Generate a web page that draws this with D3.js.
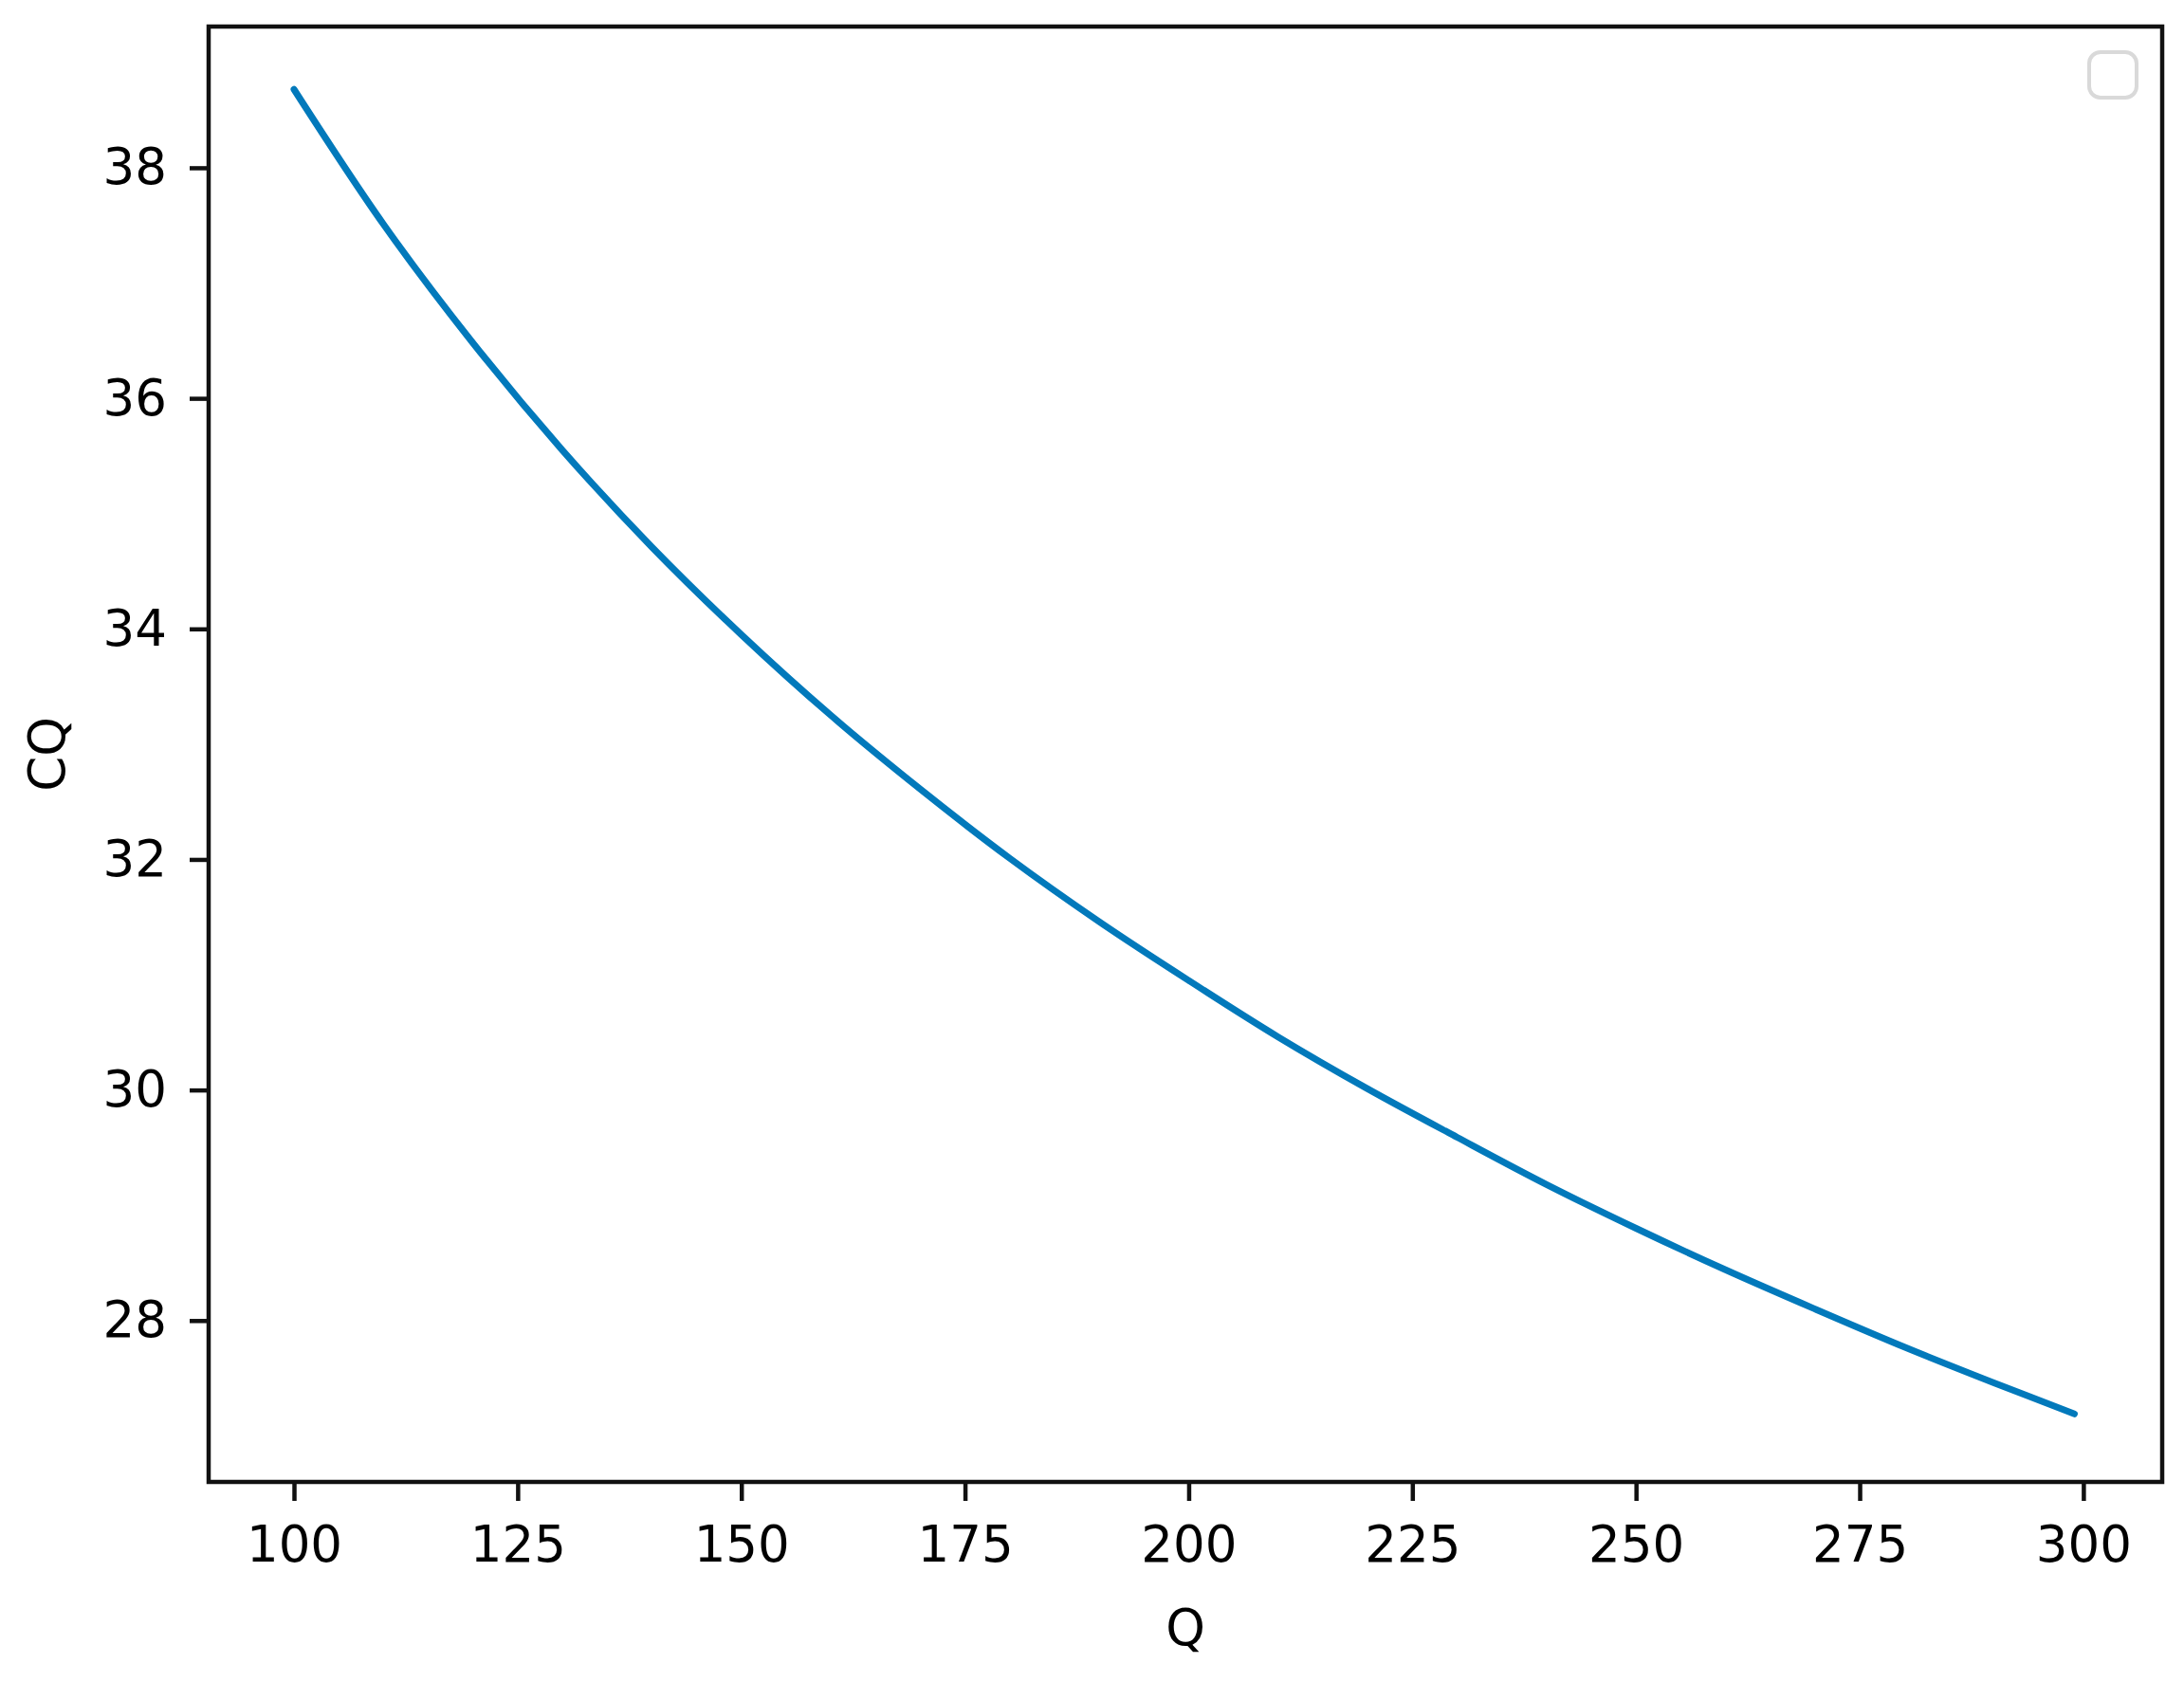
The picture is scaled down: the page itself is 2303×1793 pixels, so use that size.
<!DOCTYPE html>
<html>
<head>
<meta charset="utf-8">
<script src="https://cdn.jsdelivr.net/npm/d3@7"></script>
<style>
  body { margin: 0; background: #fff; }
  text { font-family: "DejaVu Sans", sans-serif; fill: #000; }
</style>
</head>
<body>
<svg id="chart"></svg>
<script>
// values
const qValues  = [100, 110, 120, 130, 140, 150, 160, 170, 180, 190, 200,
                  210, 220, 230, 240, 250, 260, 270, 280, 290, 299];
const cqValues = [38.68, 37.51, 36.48, 35.55, 34.71, 33.95, 33.25, 32.61, 32.01, 31.46, 30.95,
                  30.46, 30.01, 29.59, 29.18, 28.80, 28.44, 28.10, 27.77, 27.46, 27.19];
const xTicks = [100, 125, 150, 175, 200, 225, 250, 275, 300];
const yTicks = [28, 30, 32, 34, 36, 38];

class CostChart {

    constructor(_config, _data) {
        this.config = {
            parentElement: _config.parentElement,
            containerWidth: _config.containerWidth || 2303,
            containerHeight: _config.containerHeight || 1793,
            margin: { top: 28, bottom: 230, right: 23, left: 220 }
        }
        this.data = _data;
        this.initVis();
    }

    initVis() {
        let vis = this;

        vis.width = vis.config.containerWidth - vis.config.margin.left - vis.config.margin.right;
        vis.height = vis.config.containerHeight - vis.config.margin.top - vis.config.margin.bottom;

        vis.svg = d3.select(vis.config.parentElement)
            .attr('width', vis.config.containerWidth)
            .attr('height', vis.config.containerHeight);

        vis.chart = vis.svg.append('g')
            .attr('transform', `translate(${vis.config.margin.left},${vis.config.margin.top})`);

        // scales (matplotlib style padded domains)
        vis.xScale = d3.scaleLinear()
            .domain([90.46, 308.81])
            .range([0, vis.width]);

        vis.yScale = d3.scaleLinear()
            .domain([26.60, 39.225])
            .range([vis.height, 0]);

        // axes
        vis.xAxis = d3.axisBottom(vis.xScale)
            .tickValues(xTicks)
            .tickSize(20)
            .tickPadding(26)
            .tickFormat(d3.format('d'));

        vis.yAxis = d3.axisLeft(vis.yScale)
            .tickValues(yTicks)
            .tickSize(20)
            .tickPadding(24)
            .tickFormat(d3.format('d'));

        vis.xAxisGroup = vis.chart.append('g')
            .attr('class', 'axis x-axis')
            .attr('transform', `translate(0, ${vis.height})`)
            .call(vis.xAxis);

        vis.yAxisGroup = vis.chart.append('g')
            .attr('class', 'axis y-axis')
            .call(vis.yAxis);

        [vis.xAxisGroup, vis.yAxisGroup].forEach(g => {
            g.select('.domain').remove();
            g.selectAll('.tick line').attr('stroke', '#111').attr('stroke-width', 4.5);
            g.selectAll('.tick text')
                .attr('font-size', 53)
                .attr('font-family', '"DejaVu Sans", sans-serif')
                .attr('fill', '#111');
        });

        // the line
        vis.line = d3.line()
            .x(d => vis.xScale(d.q))
            .y(d => vis.yScale(d.cq))
            .curve(d3.curveCatmullRom);

        vis.chart.append('path')
            .datum(vis.data)
            .attr('fill', 'none')
            .attr('stroke', '#0279bb')
            .attr('stroke-width', 7)
            .attr('stroke-linecap', 'round')
            .attr('d', vis.line);

        // frame
        vis.chart.append('rect')
            .attr('x', 0).attr('y', 0)
            .attr('width', vis.width).attr('height', vis.height)
            .attr('fill', 'none')
            .attr('stroke', '#111')
            .attr('stroke-width', 4.5);

        // empty legend box
        vis.chart.append('rect')
            .attr('x', vis.width - 77).attr('y', 27)
            .attr('width', 50).attr('height', 48)
            .attr('rx', 12)
            .attr('fill', '#fff')
            .attr('stroke', '#d9d9d9')
            .attr('stroke-width', 4);

        // axis labels
        vis.chart.append('text')
            .attr('x', vis.width / 2)
            .attr('y', vis.height + 172)
            .attr('text-anchor', 'middle')
            .attr('font-size', 53)
            .attr('fill', '#111')
            .text('Q');

        vis.chart.append('text')
            .attr('transform', `translate(${68 - vis.config.margin.left}, ${vis.height / 2}) rotate(-90)`)
            .attr('text-anchor', 'middle')
            .attr('font-size', 53)
            .attr('fill', '#111')
            .text('CQ');
    }
}

const data = qValues.map((q, i) => ({ q: q, cq: cqValues[i] }));
new CostChart({ parentElement: '#chart' }, data);
</script>
</body>
</html>
